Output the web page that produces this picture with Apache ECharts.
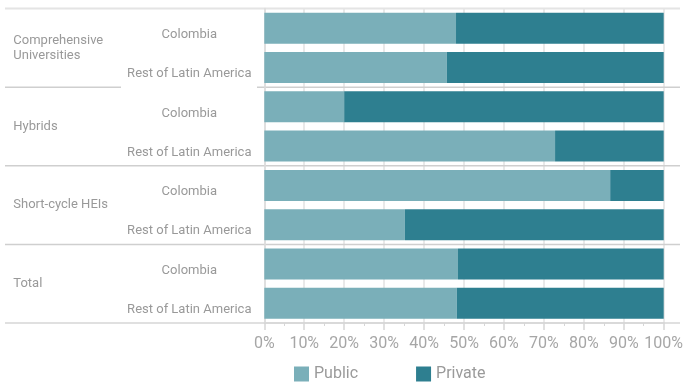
<!DOCTYPE html>
<html>
<head>
<meta charset="utf-8">
<script src="https://cdn.jsdelivr.net/npm/echarts@6/dist/echarts.min.js"></script>
<style>
  html, body { margin: 0; padding: 0; background: #fff; overflow: hidden; }
  #chart { width: 683px; height: 385px; }
</style>
</head>
<body>
<div id="chart"></div>
<script>
// Institution groups and the two regions compared inside each group
const groups = ['Comprehensive\nUniversities', 'Hybrids', 'Short-cycle HEIs', 'Total'];
const regions = ['Colombia', 'Rest of Latin America', 'Colombia', 'Rest of Latin America',
                 'Colombia', 'Rest of Latin America', 'Colombia', 'Rest of Latin America'];
// Share of enrolment (%) by sector
const publicShare  = [48.0, 45.7, 20.0, 72.8, 86.6, 35.2, 48.5, 48.2];
const privateShare = [52.0, 54.3, 80.0, 27.2, 13.4, 64.8, 51.5, 51.8];
const xTicks = [0, 10, 20, 30, 40, 50, 60, 70, 80, 90, 100];

const FONT = 'Roboto, "Noto Sans", sans-serif';
const chart = echarts.init(document.getElementById('chart'), null, { renderer: 'canvas', width: 683, height: 385 });

const categoryIdx = regions.map((_, i) => i);

chart.setOption({
  animation: false,
  textStyle: { fontFamily: FONT },
  grid: {
    left: 264.3, width: 399.4, top: 8.5, height: 314.5,
    containLabel: false, outerBoundsMode: 'none'
  },
  legend: {
    data: ['Public', 'Private'],
    left: 294, top: 366, padding: 0,
    icon: 'rect', itemWidth: 15, itemHeight: 15, itemGap: 58,
    textStyle: { color: '#9a9a9a', fontSize: 16, fontFamily: FONT }
  },
  xAxis: {
    type: 'value', min: xTicks[0], max: xTicks[xTicks.length - 1], interval: 10,
    axisLine: { show: true, lineStyle: { color: '#d6d6d6', width: 1.5 } },
    axisTick: { show: true, length: 7, lineStyle: { color: '#d6d6d6', width: 1.5 } },
    minorTick: { show: true, splitNumber: 2, length: 3, lineStyle: { color: '#d6d6d6', width: 1 } },
    splitLine: { show: true, lineStyle: { color: '#e2e2e2', width: 1.5 } },
    axisLabel: { formatter: '{value}%', color: '#a6a6a6', fontSize: 16, margin: 13, fontFamily: FONT }
  },
  yAxis: [
    {
      type: 'category', data: categoryIdx, inverse: true,
      axisLine: { show: true, lineStyle: { color: '#dcdcdc', width: 1.5 } },
      axisTick: { show: false },
      splitLine: { show: false },
      axisLabel: {
        formatter: (v) => regions[+v], align: 'center', margin: 75,
        verticalAlign: 'top', lineHeight: 13,
        color: '#999', fontSize: 13, fontFamily: FONT
      }
    },
    {
      type: 'category', data: groups, inverse: true, position: 'left',
      axisLine: { show: false }, axisTick: { show: false }, splitLine: { show: false },
      axisLabel: {
        align: 'left', margin: 251, color: '#999', fontSize: 13, lineHeight: 15, fontFamily: FONT
      }
    }
  ],
  series: [
    {
      name: 'Public', type: 'bar', stack: 'share', yAxisIndex: 0, barWidth: '79%',
      itemStyle: { color: '#7aafb9' }, data: publicShare
    },
    {
      name: 'Private', type: 'bar', stack: 'share', yAxisIndex: 0, barWidth: '79%',
      itemStyle: { color: '#2e7f90' }, data: privateShare
    }
  ]
});

// Horizontal rules separating institution groups, spanning the label columns too
const c0 = chart.convertToPixel({ yAxisIndex: 0 }, 0);
const c1 = chart.convertToPixel({ yAxisIndex: 0 }, 1);
const band = c1 - c0;
const firstEdge = c0 - band / 2;
const rules = [];
for (let k = 0; k <= groups.length; k++) {
  const y = firstEdge + 2 * k * band;
  if (k === 0) {
    rules.push({ type: 'line', shape: { x1: 5, y1: y, x2: 680, y2: y },
      style: { stroke: '#e4e4e4', lineWidth: 2 }, z: 0 });
  } else if (k === 1) {
    rules.push({ type: 'line', shape: { x1: 5, y1: y, x2: 121, y2: y },
      style: { stroke: '#cfcfcf', lineWidth: 1.5 }, z: 0 });
    rules.push({ type: 'line', shape: { x1: 257, y1: y, x2: 680, y2: y },
      style: { stroke: '#cfcfcf', lineWidth: 1.5 }, z: 0 });
  } else {
    rules.push({ type: 'line', shape: { x1: 5, y1: y, x2: 680, y2: y },
      style: { stroke: k === groups.length ? '#d6d6d6' : '#cfcfcf', lineWidth: 1.5 }, z: 0 });
  }
}
chart.setOption({ graphic: rules });
</script>
</body>
</html>
